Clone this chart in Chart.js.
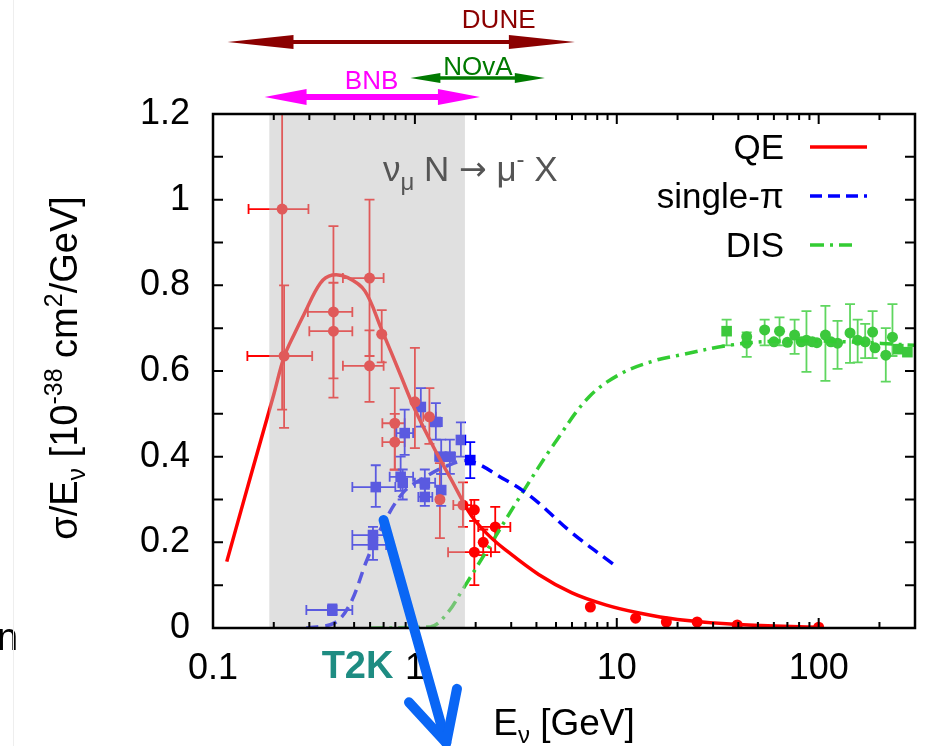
<!DOCTYPE html>
<html>
<head>
<meta charset="utf-8">
<script src="https://cdn.jsdelivr.net/npm/chart.js@4.4.1/dist/chart.umd.min.js"></script>
<style>
  html, body { margin: 0; padding: 0; background: #fff; }
  #wrap { width: 927px; height: 746px; position: relative; }
</style>
</head>
<body>
<div id="wrap"><canvas id="xsecChart" width="927" height="746"></canvas></div>
<script>
// muon-neutrino charged-current cross sections per GeV
const FONT = '"Liberation Sans", Arial, Helvetica, sans-serif';

// theory curves
const qeCurveE = [0.117, 0.143, 0.171, 0.2, 0.225, 0.255, 0.284, 0.34, 0.39, 0.465, 0.565, 0.68, 0.85, 1.0, 1.26, 1.5, 1.9, 2.3, 2.8, 4.1, 6.0, 8.8, 12.9, 20, 40, 100];
const qeCurveY = [0.155, 0.302, 0.432, 0.545, 0.633, 0.69, 0.735, 0.805, 0.824, 0.818, 0.787, 0.70, 0.59, 0.51, 0.415, 0.35, 0.263, 0.218, 0.183, 0.125, 0.082, 0.054, 0.035, 0.02, 0.008, 0.002];

const spiCurveE = [0.29, 0.4, 0.48, 0.58, 0.71, 0.89, 1.13, 1.4, 1.85, 2.8, 3.4, 4.1, 6.0, 10];
const spiCurveY = [0.0, 0.012, 0.058, 0.16, 0.25, 0.32, 0.353, 0.376, 0.39, 0.346, 0.322, 0.292, 0.222, 0.143];

const disCurveE = [0.6, 1.2, 1.45, 1.7, 2.3, 3.4, 4.9, 7.3, 10.6, 15.6, 20, 36, 64, 140, 300];
const disCurveY = [0.0, 0.003, 0.035, 0.085, 0.185, 0.315, 0.43, 0.54, 0.595, 0.625, 0.636, 0.66, 0.67, 0.668, 0.66];

// QE measurements
const qeDataE   = [0.22, 0.225, 0.395, 0.395, 0.596, 0.596, 0.685, 0.795, 0.795, 1.0, 1.18, 1.33, 1.73, 1.97, 1.97, 2.18, 2.5, 7.4, 12.4, 17.6, 25, 39.5, 100];
const qeDataY   = [0.978, 0.635, 0.738, 0.693, 0.817, 0.612, 0.686, 0.478, 0.434, 0.528, 0.493, 0.30, 0.287, 0.276, 0.177, 0.20, 0.236, 0.049, 0.023, 0.014, 0.014, 0.007, 0.002];
const qeDataXLo = [0.15, 0.148, 0.295, 0.30, 0.44, 0.44, null, 0.69, 0.69, null, 1.1, null, 1.55, null, 1.46, null, 2.06, null, null, null, null, null, null];
const qeDataXHi = [0.297, 0.31, 0.49, 0.49, 0.70, 0.70, null, 0.89, 0.89, null, 1.27, null, 1.9, null, 2.38, null, 2.97, null, null, null, null, null, null];
const qeDataYLo = [0.51, 0.467, 0.538, 0.583, 0.635, 0.528, 0.62, 0.369, 0.37, 0.42, 0.43, 0.21, 0.236, 0.25, 0.10, 0.17, 0.177, null, null, null, null, null, null];
const qeDataYHi = [1.45, 0.80, 0.938, 0.806, 1.0, 0.695, 0.742, 0.56, 0.50, 0.654, 0.56, 0.385, 0.34, 0.299, 0.25, 0.23, 0.283, null, null, null, null, null, null];

// single-pion measurements
const spiDataE   = [0.39, 0.62, 0.62, 0.64, 0.85, 0.87, 0.89, 1.07, 1.12, 1.12, 1.27, 1.35, 1.35, 1.49, 1.69, 1.88];
const spiDataY   = [0.042, 0.217, 0.194, 0.329, 0.353, 0.339, 0.455, 0.516, 0.339, 0.306, 0.481, 0.40, 0.322, 0.40, 0.439, 0.392];
const spiDataXLo = [0.29, 0.49, 0.49, 0.49, 0.75, null, 0.81, null, 1.0, 1.04, 1.2, 1.26, null, 1.42, null, null];
const spiDataXHi = [0.49, 0.72, 0.72, 0.80, 0.98, null, 0.98, null, 1.26, 1.22, 1.36, 1.44, null, 1.58, null, null];
const spiDataYLo = [0.03, 0.19, 0.159, 0.283, 0.32, 0.30, 0.404, 0.47, 0.31, 0.285, 0.44, 0.36, 0.285, 0.36, 0.40, 0.35];
const spiDataYHi = [0.055, 0.236, 0.22, 0.38, 0.40, 0.37, 0.51, 0.56, 0.37, 0.325, 0.525, 0.44, 0.36, 0.44, 0.48, 0.434];

// DIS measurements
const disDataE   = [35, 44, 44, 54, 60, 64, 70, 76, 82, 87, 93, 98, 108, 115, 124, 143, 156, 170, 185, 190, 215, 232, 248, 275];
const disDataY   = [0.693, 0.68, 0.665, 0.696, 0.668, 0.693, 0.667, 0.684, 0.668, 0.672, 0.668, 0.666, 0.684, 0.668, 0.665, 0.689, 0.672, 0.668, 0.691, 0.654, 0.637, 0.679, 0.651, 0.644];
const disDataYLo = [0.66, 0.633, null, 0.66, null, 0.66, null, 0.64, null, 0.598, null, null, 0.577, null, 0.605, 0.619, 0.62, 0.63, 0.63, null, 0.575, 0.635, null, null];
const disDataYHi = [0.72, 0.69, null, 0.72, null, 0.725, null, 0.72, null, 0.74, null, null, 0.752, null, 0.717, 0.756, 0.72, 0.71, 0.74, null, 0.70, 0.756, null, null];
const disDataSquare = [0, 22, 23];

// beam energy ranges (GeV) and label positions
const beamNames  = ["DUNE", "NOvA", "BNB"];
const beamLo     = [0.118, 0.95, 0.18];
const beamHi     = [6.2, 4.4, 2.1];
const beamLabelE = [2.6, 2.05, 0.61];

// shaded region
const bandLo = 0.19;
const bandHi = 1.77;

const xTickLabels = [0.1, 1, 10, 100];
const yTickLabels = [0, 0.2, 0.4, 0.6, 0.8, 1, 1.2];

const RED = "#ff0000";
const BLUE = "#0000ff";
const GREEN = "#33cc33";

function pts(xs, ys) {
  return xs.map((x, i) => ({ x: x, y: ys[i] }));
}

// parts: [text, size, baseline shift, optional family]
function drawRich(ctx, parts, x, y) {
  let cx = x;
  parts.forEach(p => {
    ctx.font = p[1] + "px " + (p[3] || FONT);
    ctx.fillText(p[0], cx, y + p[2]);
    cx += ctx.measureText(p[0]).width;
  });
  return cx - x;
}

function richWidth(ctx, parts) {
  let w = 0;
  parts.forEach(p => {
    ctx.font = p[1] + "px " + (p[3] || FONT);
    w += ctx.measureText(p[0]).width;
  });
  return w;
}

function doubleArrow(ctx, x1, x2, y, body, head, half, color) {
  ctx.save();
  ctx.fillStyle = color;
  ctx.strokeStyle = color;
  ctx.lineWidth = body;
  ctx.beginPath();
  ctx.moveTo(x1 + head * 0.6, y);
  ctx.lineTo(x2 - head * 0.6, y);
  ctx.stroke();
  ctx.beginPath();
  ctx.moveTo(x1, y);
  ctx.lineTo(x1 + head, y - half);
  ctx.lineTo(x1 + head, y + half);
  ctx.closePath();
  ctx.fill();
  ctx.beginPath();
  ctx.moveTo(x2, y);
  ctx.lineTo(x2 - head, y - half);
  ctx.lineTo(x2 - head, y + half);
  ctx.closePath();
  ctx.fill();
  ctx.restore();
}

function errorSet(ctx, xs, ys, E, Y, xlo, xhi, ylo, yhi, color) {
  const cap = 5;
  ctx.strokeStyle = color;
  ctx.lineWidth = 1.8;
  E.forEach((e, i) => {
    const px = xs.getPixelForValue(e);
    const py = ys.getPixelForValue(Y[i]);
    ctx.beginPath();
    if (xlo && xlo[i] != null) {
      const a = xs.getPixelForValue(xlo[i]);
      const b = xs.getPixelForValue(xhi[i]);
      ctx.moveTo(a, py); ctx.lineTo(b, py);
      ctx.moveTo(a, py - cap); ctx.lineTo(a, py + cap);
      ctx.moveTo(b, py - cap); ctx.lineTo(b, py + cap);
    }
    if (ylo[i] != null) {
      const a = ys.getPixelForValue(ylo[i]);
      const b = ys.getPixelForValue(yhi[i]);
      ctx.moveTo(px, a); ctx.lineTo(px, b);
      ctx.moveTo(px - cap, a); ctx.lineTo(px + cap, a);
      ctx.moveTo(px - cap, b); ctx.lineTo(px + cap, b);
    }
    ctx.stroke();
  });
}

const errorBars = {
  id: "errorBars",
  beforeDatasetsDraw(chart) {
    const { ctx, chartArea: a, scales: { x: xs, y: ys } } = chart;
    ctx.save();
    ctx.beginPath();
    ctx.rect(a.left, a.top, a.right - a.left, a.bottom - a.top);
    ctx.clip();
    errorSet(ctx, xs, ys, qeDataE, qeDataY, qeDataXLo, qeDataXHi, qeDataYLo, qeDataYHi, RED);
    errorSet(ctx, xs, ys, spiDataE, spiDataY, spiDataXLo, spiDataXHi, spiDataYLo, spiDataYHi, BLUE);
    errorSet(ctx, xs, ys, disDataE, disDataY, null, null, disDataYLo, disDataYHi, "#5fd65f");
    ctx.restore();
  }
};

const decorations = {
  id: "decorations",
  afterDatasetsDraw(chart) {
    const { ctx, chartArea: a, scales: { x: xs, y: ys } } = chart;
    ctx.save();

    // grey band laid over the low-energy region
    const b1 = xs.getPixelForValue(bandLo), b2 = xs.getPixelForValue(bandHi);
    ctx.fillStyle = "rgba(189,189,189,0.475)";
    ctx.fillRect(b1, a.top, b2 - b1, a.bottom - a.top);

    // frame and inward ticks
    ctx.strokeStyle = "#000";
    ctx.lineWidth = 2.5;
    ctx.strokeRect(a.left, a.top, a.right - a.left, a.bottom - a.top);
    ctx.lineWidth = 2;
    ctx.beginPath();
    for (let k = 1; k < 12; k++) {
      const py = ys.getPixelForValue(k / 10);
      ctx.moveTo(a.left, py); ctx.lineTo(a.left + 10, py);
      ctx.moveTo(a.right, py); ctx.lineTo(a.right - 10, py);
    }
    for (let dec = 0.1; dec < 300; dec *= 10) {
      for (let m = 1; m < 10; m++) {
        const v = dec * m;
        if (v <= 0.1 || v >= 300) continue;
        const px = xs.getPixelForValue(v);
        const len = m === 1 ? 10 : 6;
        ctx.moveTo(px, a.bottom); ctx.lineTo(px, a.bottom - len);
        ctx.moveTo(px, a.top); ctx.lineTo(px, a.top + len);
      }
    }
    ctx.stroke();

    // legend
    ctx.fillStyle = "#000";
    ctx.textAlign = "right";
    ctx.textBaseline = "alphabetic";
    ctx.font = "35px " + FONT;
    const legendRows = [["QE", RED, []], ["single-\u03c0", BLUE, [12, 6]], ["DIS", GREEN, [14, 6, 3, 6]]];
    legendRows.forEach((r, i) => {
      const base = 159 + i * 49;
      ctx.fillText(r[0], 784, base);
      ctx.strokeStyle = r[1];
      ctx.lineWidth = 3.5;
      ctx.setLineDash(r[2]);
      ctx.beginPath();
      ctx.moveTo(810, base - 12);
      ctx.lineTo(i === 2 ? 852 : 867, base - 12);
      ctx.stroke();
    });
    ctx.setLineDash([]);

    // process label
    ctx.textAlign = "left";
    ctx.fillStyle = "#555";
    drawRich(ctx, [["\u03bd", 35, 0], ["\u03bc", 24, 9], [" N ", 35, 0], ["\u2192", 33, -1, '"DejaVu Sans", sans-serif'],
                   [" \u03bc", 35, 0], ["-", 24, -14], [" X", 35, 0]], 383, 181);

    // beam energy ranges above the frame
    const arrowY = [42, 78, 97];
    const arrowCol = ["#8b0000", "#007a00", "#ff00ff"];
    const arrowBody = [4, 3.5, 6];
    const arrowHead = [66, 30, 42];
    const arrowHalf = [7, 5, 8];
    const labelY = [28, 75, 89];
    beamNames.forEach((n, i) => {
      doubleArrow(ctx, xs.getPixelForValue(beamLo[i]), xs.getPixelForValue(beamHi[i]), arrowY[i],
                  arrowBody[i], arrowHead[i], arrowHalf[i], arrowCol[i]);
      ctx.fillStyle = arrowCol[i];
      ctx.font = "26px " + FONT;
      ctx.textAlign = "center";
      ctx.fillText(n, xs.getPixelForValue(beamLabelE[i]), labelY[i]);
    });

    // axis titles
    ctx.fillStyle = "#000";
    ctx.textAlign = "left";
    const xt = [["E", 37, 0], ["\u03bd", 24, 8], [" [GeV]", 37, 0]];
    const xw = richWidth(ctx, xt);
    drawRich(ctx, xt, (a.left + a.right) / 2 - xw / 2, 735);

    const yt = [["\u03c3/E", 38, 0], ["\u03bd", 25, 8], [" [10", 38, 0], ["-38", 25, -15], [" cm", 38, 0], ["2", 25, -15], ["/GeV]", 38, 0]];
    const yw = richWidth(ctx, yt);
    ctx.save();
    ctx.translate(77, 368);
    ctx.rotate(-Math.PI / 2);
    drawRich(ctx, yt, -yw / 2, 0);
    ctx.restore();

    // T2K marker
    ctx.fillStyle = "#1e8c82";
    ctx.font = "bold 38px " + FONT;
    ctx.textAlign = "center";
    ctx.fillText("T2K", xs.getPixelForValue(0.52), 678);

    // blue pointer arrow
    const sx = xs.getPixelForValue(0.70), sy = ys.getPixelForValue(0.252);
    const tx = xs.getPixelForValue(1.43), ty = ys.getPixelForValue(-0.268);
    const ang = Math.atan2(ty - sy, tx - sx);
    ctx.strokeStyle = "#0a66f5";
    ctx.lineWidth = 10;
    ctx.lineCap = "round";
    ctx.lineJoin = "round";
    ctx.beginPath();
    ctx.moveTo(sx, sy);
    ctx.lineTo(tx, ty);
    ctx.stroke();
    ctx.beginPath();
    ctx.moveTo(tx - 55 * Math.cos(ang - 0.47), ty - 55 * Math.sin(ang - 0.47));
    ctx.lineTo(tx, ty);
    ctx.lineTo(tx - 55 * Math.cos(ang + 0.47), ty - 55 * Math.sin(ang + 0.47));
    ctx.stroke();

    // slide remnants at the left edge
    ctx.fillStyle = "#000";
    ctx.font = "38px " + FONT;
    ctx.textAlign = "left";
    ctx.fillText("n", -3, 650);
    ctx.strokeStyle = "#eeeeee";
    ctx.lineWidth = 1;
    ctx.lineCap = "butt";
    ctx.beginPath();
    ctx.moveTo(13.5, 0);
    ctx.lineTo(13.5, 746);
    ctx.stroke();

    ctx.restore();
  }
};

Chart.defaults.font.family = FONT;

new Chart(document.getElementById("xsecChart").getContext("2d"), {
  type: "scatter",
  data: {
    datasets: [
      {
        label: "QE",
        data: pts(qeCurveE, qeCurveY),
        showLine: true,
        borderColor: RED,
        borderWidth: 3.5,
        pointRadius: 0,
        tension: 0.35,
      },
      {
        label: "single-\u03c0",
        data: pts(spiCurveE, spiCurveY),
        showLine: true,
        borderColor: BLUE,
        borderWidth: 3.5,
        borderDash: [12, 7],
        pointRadius: 0,
        tension: 0.35,
      },
      {
        label: "DIS",
        data: pts(disCurveE, disCurveY),
        showLine: true,
        borderColor: GREEN,
        borderWidth: 3.5,
        borderDash: [13, 6, 3, 6],
        pointRadius: 0,
        tension: 0.35,
      },
      {
        label: "QE data",
        data: pts(qeDataE, qeDataY),
        pointStyle: "circle",
        pointRadius: 5.5,
        backgroundColor: RED,
        borderWidth: 0,
      },
      {
        label: "single-pi data",
        data: pts(spiDataE, spiDataY),
        pointStyle: "rect",
        pointRadius: 7.5,
        backgroundColor: BLUE,
        borderWidth: 0,
      },
      {
        label: "DIS data",
        data: pts(disDataE, disDataY),
        pointStyle: disDataE.map((e, i) => disDataSquare.includes(i) ? "rect" : "circle"),
        pointRadius: disDataE.map((e, i) => disDataSquare.includes(i) ? 7.5 : 5.5),
        backgroundColor: "#3cc83c",
        borderWidth: 0,
      },
    ],
  },
  options: {
    responsive: false,
    animation: false,
    layout: { padding: { top: 114, right: 12, left: 0, bottom: 0 } },
    plugins: {
      legend: { display: false },
      tooltip: { enabled: false },
    },
    scales: {
      x: {
        type: "logarithmic",
        min: 0.1,
        max: 300,
        afterBuildTicks: (s) => { s.ticks = xTickLabels.map(v => ({ value: v })); },
        afterFit: (s) => { s.height = 118; },
        grid: { display: false, drawTicks: false },
        border: { display: false },
        ticks: {
          color: "#000",
          font: { size: 36 },
          padding: 19,
          maxRotation: 0,
          autoSkip: false,
          callback: (v) => String(v),
        },
      },
      y: {
        min: 0,
        max: 1.2,
        afterBuildTicks: (s) => { s.ticks = yTickLabels.map(v => ({ value: v })); },
        afterFit: (s) => { s.width = 213; },
        grid: { display: false, drawTicks: false },
        border: { display: false },
        ticks: {
          color: "#000",
          font: { size: 36 },
          padding: 23,
          callback: (v) => String(Math.round(v * 10) / 10),
        },
      },
    },
  },
  plugins: [errorBars, decorations],
});
</script>
</body>
</html>
